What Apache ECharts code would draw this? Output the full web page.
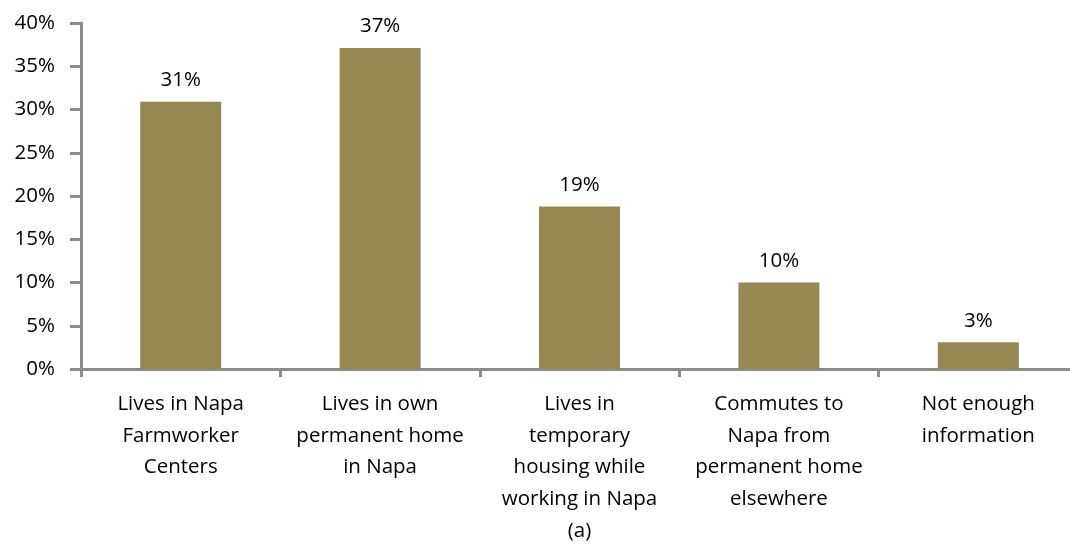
<!DOCTYPE html>
<html>
<head>
<meta charset="utf-8">
<script src="https://cdn.jsdelivr.net/npm/echarts@6/dist/echarts.min.js"></script>
<style>html,body{margin:0;padding:0;background:#fff;overflow:hidden}#c{width:1090px;height:546px}</style>
</head>
<body>
<div id="c"></div>
<script>
const categories = [
  "Lives in Napa\nFarmworker\nCenters",
  "Lives in own\npermanent home\nin Napa",
  "Lives in\ntemporary\nhousing while\nworking in Napa\n(a)",
  "Commutes to\nNapa from\npermanent home\nelsewhere",
  "Not enough\ninformation"
];
const values = [30.9, 37.1, 18.8, 10.0, 3.1];
const labels = ["31%", "37%", "19%", "10%", "3%"];
const yTicks = [0, 5, 10, 15, 20, 25, 30, 35, 40];

const chart = echarts.init(document.getElementById('c'));
const FONT = '"Open Sans", "Noto Sans", sans-serif';
chart.setOption({
  animation: false,
  grid: { left: 81, top: 23, width: 997, height: 346, outerBoundsMode: 'none', containLabel: false },
  xAxis: {
    type: 'category',
    data: categories,
    axisLine: { lineStyle: { color: '#8c8c8c', width: 3 } },
    axisTick: { show: true, length: 8, interval: 0, lineStyle: { color: '#8c8c8c', width: 3 } },
    axisLabel: { interval: 0, color: '#000', fontFamily: FONT, fontSize: 20.5, lineHeight: 31.8, margin: 19 }
  },
  yAxis: {
    type: 'value',
    min: yTicks[0], max: yTicks[yTicks.length - 1], interval: 5,
    axisLine: { show: true, lineStyle: { color: '#8c8c8c', width: 3 } },
    axisTick: { show: true, length: 11, lineStyle: { color: '#8c8c8c', width: 3 } },
    splitLine: { show: false },
    axisLabel: { color: '#000', fontFamily: FONT, fontSize: 20.5, margin: 26, formatter: v => v + '%' }
  },
  series: [{
    type: 'bar',
    data: values,
    barWidth: 81,
    itemStyle: { color: '#948953' },
    label: {
      show: true, position: 'top', distance: 11,
      color: '#000', fontFamily: FONT, fontSize: 20.5,
      formatter: p => labels[p.dataIndex]
    }
  }]
});
</script>
</body>
</html>
